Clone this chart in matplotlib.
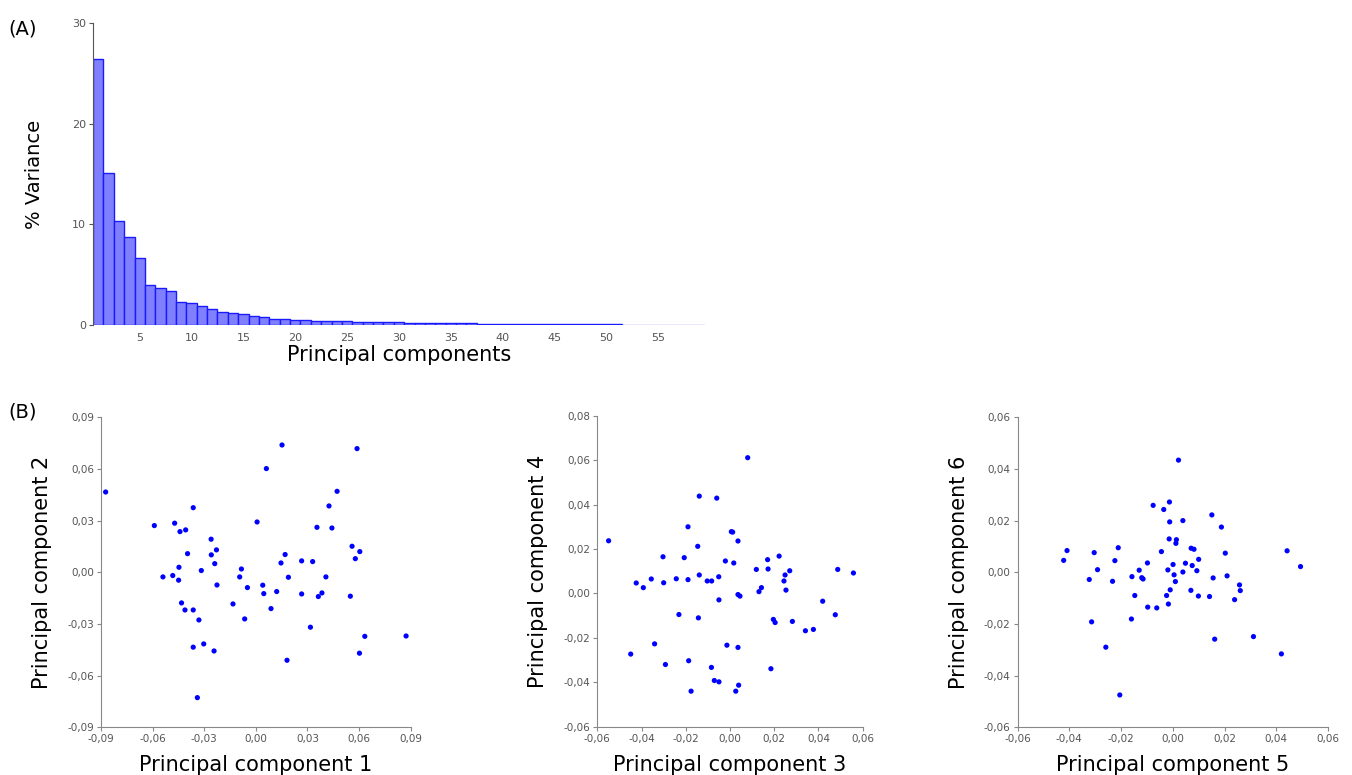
import numpy as np
import matplotlib
matplotlib.use("Agg")
import matplotlib.pyplot as plt
from matplotlib.ticker import FuncFormatter, MultipleLocator

# (A) % variance per principal component
variance = [26.4, 15.1, 10.3, 8.8, 6.65, 3.95, 3.65, 3.35, 2.3, 2.2,
            1.87, 1.63, 1.27, 1.2, 1.07, 0.9, 0.77, 0.63, 0.63, 0.53,
            0.5, 0.43, 0.43, 0.37, 0.37, 0.33, 0.27, 0.27, 0.27, 0.27,
            0.17, 0.17, 0.17, 0.17, 0.17, 0.17, 0.17,
            0.07, 0.07, 0.07, 0.07, 0.07, 0.07, 0.07, 0.07, 0.07, 0.07,
            0.07, 0.07, 0.07, 0.07,
            0.03, 0.03, 0.03, 0.03, 0.03, 0.03, 0.03, 0.03]
components = list(range(1, len(variance) + 1))

# (B) scores
pc1 = [-0.0873, -0.059, -0.054, -0.0483, -0.0472, -0.0441, -0.0408, -0.0447, -0.0449, -0.0397,
       -0.0432, -0.0412, -0.0364, -0.0364, -0.0331, -0.0317, -0.0364, -0.0303, -0.034, -0.026,
       -0.0259, -0.0229, -0.0239, -0.0226, -0.0243, -0.0133, -0.0084, -0.0094, -0.0065, -0.0049,
       0.0007, 0.004, 0.0046, 0.0061, 0.0088, 0.0121, 0.0152, 0.0146, 0.017, 0.0189,
       0.0181, 0.0266, 0.0266, 0.033, 0.0317, 0.0355, 0.0363, 0.0384, 0.0407, 0.0425,
       0.0442, 0.0472, 0.0549, 0.0559, 0.0578, 0.0588, 0.0604, 0.0602, 0.0633, 0.0873]
pc2 = [0.0466, 0.0271, -0.0027, -0.0019, 0.0285, 0.0236, 0.0246, 0.0029, -0.0046, 0.0108,
       -0.0178, -0.0219, 0.0375, -0.0219, -0.0277, 0.001, -0.0435, -0.0416, -0.0728, 0.0192,
       0.0101, 0.013, 0.005, -0.0074, -0.0457, -0.0184, 0.0019, -0.0027, -0.0271, -0.0089,
       0.0292, -0.0075, -0.0124, 0.0602, -0.0211, -0.0112, 0.0739, 0.0054, 0.0103, -0.0029,
       -0.0511, 0.0066, -0.0126, 0.0062, -0.0319, 0.0261, -0.0141, -0.012, -0.0027, 0.0385,
       0.0257, 0.047, -0.0139, 0.0151, 0.0079, 0.0718, 0.012, -0.047, -0.0372, -0.037]

pc3 = [-0.0549, -0.0449, -0.0424, -0.0392, -0.0356, -0.0341, -0.0303, -0.03, -0.0292, -0.0243,
       -0.0231, -0.0207, -0.019, -0.019, -0.0187, -0.0176, -0.0146, -0.0139, -0.0139, -0.0143,
       -0.0103, -0.0083, -0.0084, -0.0071, -0.006, -0.005, -0.0051, -0.005, -0.0021, -0.0014,
       0.0006, 0.0012, 0.0017, 0.0026, 0.0036, 0.0036, 0.0045, 0.0036, 0.0039, 0.008,
       0.0119, 0.0131, 0.0142, 0.017, 0.0172, 0.0185, 0.0196, 0.0204, 0.0222, 0.0244,
       0.0249, 0.0253, 0.027, 0.0282, 0.0341, 0.0377, 0.0419, 0.0476, 0.0487, 0.0558]
pc4 = [0.0237, -0.0273, 0.0047, 0.0026, 0.0065, -0.0227, 0.0165, 0.0048, -0.032, 0.0066,
       -0.0095, 0.0161, 0.03, 0.0062, -0.0303, -0.044, 0.0212, 0.0438, 0.0083, -0.011,
       0.0056, 0.0056, -0.0333, -0.0392, 0.0429, -0.0398, 0.0075, -0.0029, 0.0146, -0.0233,
       0.0278, 0.0276, 0.0137, -0.044, 0.0236, -0.0005, -0.0012, -0.0243, -0.0413, 0.0611,
       0.0108, 0.0008, 0.0026, 0.0152, 0.011, -0.0339, -0.0117, -0.0131, 0.0168, 0.0056,
       0.0083, 0.0015, 0.0102, -0.0126, -0.0168, -0.0162, -0.0035, -0.0096, 0.0108, 0.0092]

pc5 = [-0.0422, -0.0409, -0.0323, -0.0314, -0.0304, -0.0291, -0.0259, -0.0233, -0.0224, -0.0211,
       -0.0205, -0.0158, -0.016, -0.0147, -0.013, -0.012, -0.0115, -0.0098, -0.0097, -0.0076,
       -0.0062, -0.0044, -0.0035, -0.0024, -0.0019, -0.0017, -0.0014, -0.0013, -0.0012, -0.001,
       0.0001, 0.0005, 0.001, 0.0012, 0.0014, 0.0022, 0.0039, 0.0039, 0.0049, 0.0071,
       0.007, 0.0075, 0.0082, 0.0093, 0.01, 0.0099, 0.0142, 0.0151, 0.0156, 0.0162,
       0.0188, 0.0203, 0.021, 0.0239, 0.0258, 0.0261, 0.0312, 0.042, 0.0442, 0.0494]
pc6 = [0.0046, 0.0084, -0.0028, -0.0192, 0.0076, 0.001, -0.029, -0.0035, 0.0045, 0.0095,
       -0.0475, -0.0017, -0.0181, -0.009, 0.0008, -0.0021, -0.0026, 0.0036, -0.0135, 0.0259,
       -0.0138, 0.008, 0.0243, -0.009, 0.0009, -0.0123, 0.0129, 0.0272, 0.0195, -0.0068,
       0.003, -0.001, -0.0036, 0.0112, 0.0126, 0.0434, 0.02, 0.0001, 0.0035, 0.0093,
       -0.007, 0.0026, 0.0089, 0.0006, 0.005, -0.0092, -0.0094, 0.0222, -0.0022, -0.0259,
       0.0175, 0.0074, -0.0014, -0.0106, -0.0049, -0.0071, -0.0249, -0.0316, 0.0083, 0.0022]

tick_col = "#555555"
spine_col = "#888888"

fig = plt.figure(figsize=(13.52, 7.75), dpi=100)

# ---- (A) bar chart
ax = fig.add_axes([0.0688, 0.5806, 0.4526, 0.3894])
edge = ["#1a1aff" if v > 0.05 else "#8c8cff" for v in variance]
ax.bar(components, variance, width=1.0, color="#8080ff", edgecolor=edge, linewidth=1.0)
ax.set_xlim(0.5, len(variance) + 0.5)
ax.set_ylim(0, 30)
ax.set_yticks([0, 10, 20, 30])
ax.set_xticks(range(5, 56, 5))
for s in ["top", "right", "bottom"]:
    ax.spines[s].set_visible(False)
ax.spines["left"].set_color("#555555")
ax.tick_params(axis="y", length=3, color="#555555", labelsize=8, labelcolor=tick_col, pad=2)
ax.tick_params(axis="x", length=0, labelsize=8, labelcolor=tick_col, pad=6)
ax.set_xlabel("Principal components", fontsize=15, labelpad=1)
ax.set_ylabel("% Variance", fontsize=14, labelpad=20)

fig.text(0.006, 0.963, "(A)", fontsize=14, va="center")
fig.text(0.006, 0.468, "(B)", fontsize=14, va="center")

comma = FuncFormatter(lambda v, p: f"{v:.2f}".replace(".", ",").replace("-0,00", "0,00"))

panels = [
    ([0.0747, 0.0616, 0.2291, 0.4000], pc1, pc2, (-0.09, 0.09), (-0.09, 0.09), 0.03, 0.03,
     "Principal component 1", "Principal component 2"),
    ([0.4418, 0.0623, 0.1963, 0.4013], pc3, pc4, (-0.06, 0.06), (-0.06, 0.08), 0.02, 0.02,
     "Principal component 3", "Principal component 4"),
    ([0.7527, 0.0616, 0.2295, 0.4000], pc5, pc6, (-0.06, 0.06), (-0.06, 0.06), 0.02, 0.02,
     "Principal component 5", "Principal component 6"),
]

for rect, xs, ys, xl, yl, xst, yst, xlab, ylab in panels:
    a = fig.add_axes(rect)
    a.scatter(xs, ys, s=14, color="#0000ff", edgecolors="none", zorder=3)
    a.set_xlim(*xl)
    a.set_ylim(*yl)
    a.xaxis.set_major_locator(MultipleLocator(xst))
    a.yaxis.set_major_locator(MultipleLocator(yst))
    a.xaxis.set_major_formatter(comma)
    a.yaxis.set_major_formatter(comma)
    for s in ["top", "right"]:
        a.spines[s].set_visible(False)
    for s in ["left", "bottom"]:
        a.spines[s].set_color(spine_col)
    a.tick_params(length=3, color=spine_col, labelsize=7.5, labelcolor=tick_col, pad=2)
    a.set_xlabel(xlab, fontsize=15, labelpad=8)
    a.set_ylabel(ylab, fontsize=15, labelpad=11)

fig.savefig("out.png", dpi=100)
